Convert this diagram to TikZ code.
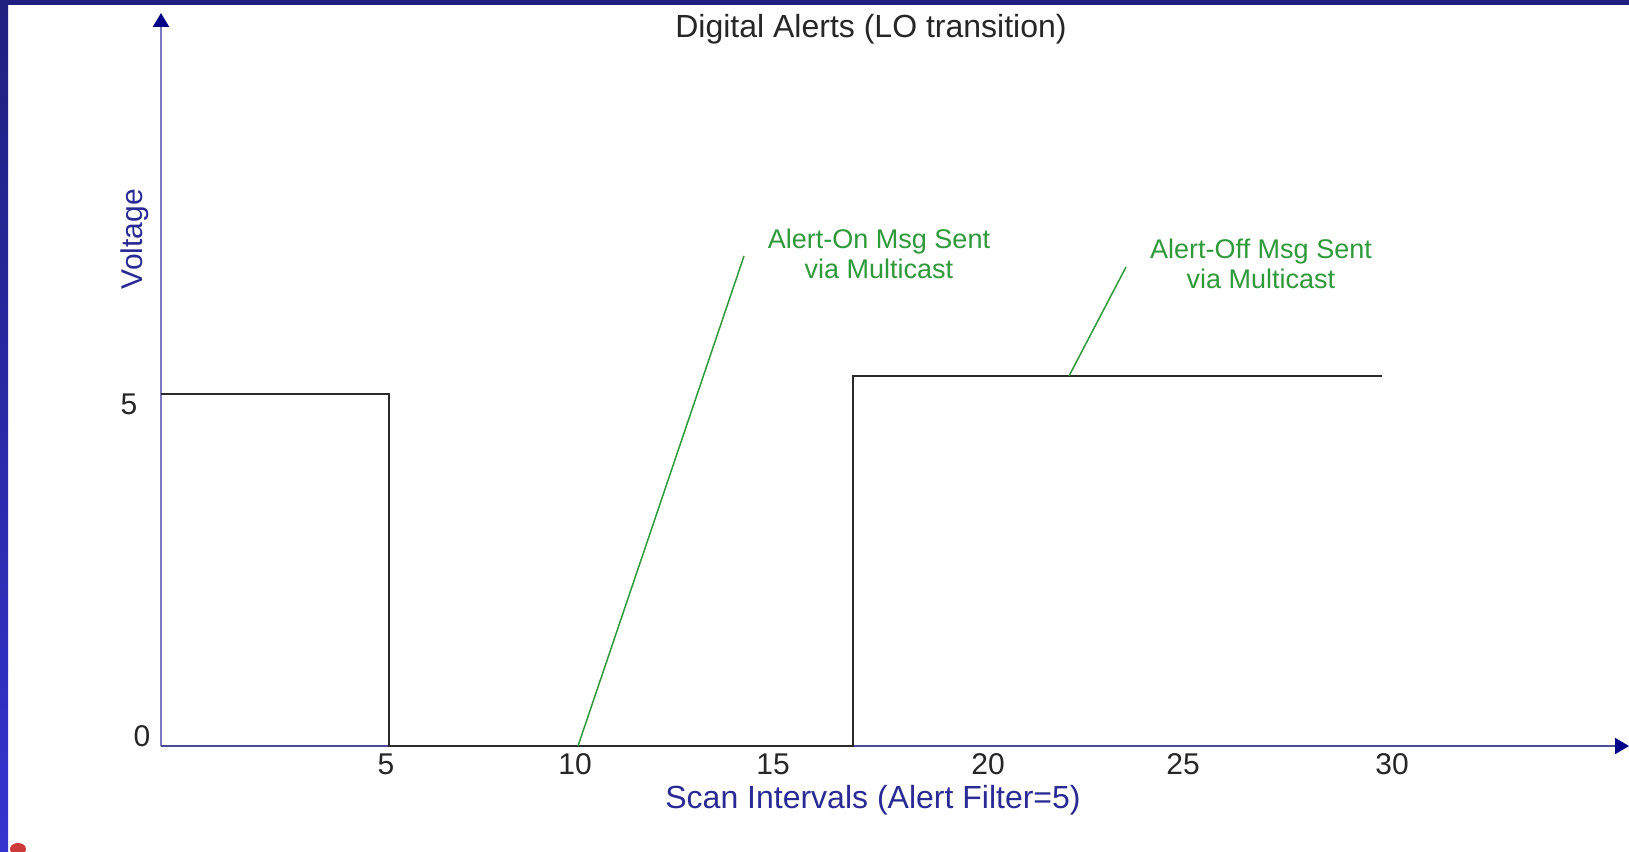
\documentclass[tikz,border=0pt]{standalone}
\usepackage{fontspec}
\setmainfont{Liberation Sans}
\usetikzlibrary{arrows.meta}
\definecolor{navybar}{HTML}{1F1F7F}
\definecolor{brightbar}{HTML}{3434D0}
\definecolor{axisy}{HTML}{7A7ABD}
\definecolor{axisx}{HTML}{4A4A9C}
\definecolor{tipcol}{HTML}{000088}
\definecolor{bluetext}{HTML}{2A2A95}
\definecolor{greentext}{HTML}{2E9A3A}
\definecolor{sigcol}{HTML}{2A2A2A}
\definecolor{reddot}{HTML}{CC3A3A}
\tikzset{
  lbl/.style={inner sep=0pt, font=\fontsize{30}{34}\selectfont, text=black!85},
  titlelbl/.style={inner sep=0pt, font=\fontsize{32}{36}\selectfont, text=black!85},
  bluelbl/.style={inner sep=0pt, font=\fontsize{32}{36}\selectfont, text=bluetext},
  greenlbl/.style={inner sep=0pt, align=center, font=\fontsize{27}{30}\selectfont, text=greentext},
  signal/.style={draw=sigcol, line width=2pt},
  callout/.style={draw=greentext, line width=1.5pt},
  tipstyle/.style={-{Triangle[length=14pt,width=16pt,color=tipcol]}}
}
\begin{document}
\begin{tikzpicture}[x=1pt,y=-1pt]
\useasboundingbox (0,0) rectangle (1629,851);
\fill[white] (0,0) rectangle (1629,851);
% frame bars
\shade[top color=navybar, bottom color=brightbar] (0,0) rectangle (8,851);
\fill[navybar] (0,0) rectangle (1629,5);
\fill[reddot] (18,849) ellipse [x radius=8, y radius=6];
% axes
\coordinate (O) at (161,746);
\coordinate (ytop) at (161,13);
\coordinate (xend) at (1629,746);
\draw[axisy, line width=2.5pt, tipstyle] (O) -- (ytop);
\draw[axisx, line width=2pt, tipstyle] (O) -- (xend);
% signal
\coordinate (s0) at (161,394);
\coordinate (s1) at (389,394);
\coordinate (s2) at (389,746);
\coordinate (s3) at (853,746);
\coordinate (s4) at (853,376);
\coordinate (s5) at (1382,376);
\draw[signal] (s0) -- (s1) -- (s2) -- (s3) -- (s4) -- (s5);
% labels
\node[titlelbl] (title) at (871,29) {Digital Alerts (LO transition)};
\node[bluelbl, rotate=90, font=\fontsize{30}{34}\selectfont] (ylab) at (135,239) {Voltage};
\node[lbl] (y5) at (129,404) {5};
\node[lbl] (y0) at (142,736) {0};
\node[lbl] (t5) at (386,764) {5};
\node[lbl] (t10) at (575,764) {10};
\node[lbl] (t15) at (773,764) {15};
\node[lbl] (t20) at (988,764) {20};
\node[lbl] (t25) at (1183,764) {25};
\node[lbl] (t30) at (1392,764) {30};
\node[bluelbl] (xlab) at (873,800) {Scan Intervals (Alert Filter=5)};
% callouts
\node[greenlbl] (on) at (879,254) {Alert-On Msg Sent\\via Multicast};
\node[greenlbl] (off) at (1261,264) {Alert-Off Msg Sent\\via Multicast};
\coordinate (on1) at (578,746);
\coordinate (on2) at (744,256);
\coordinate (off1) at (1069,376);
\coordinate (off2) at (1126,267);
\draw[callout] (on1) -- (on2);
\draw[callout] (off1) -- (off2);
\end{tikzpicture}
\end{document}
